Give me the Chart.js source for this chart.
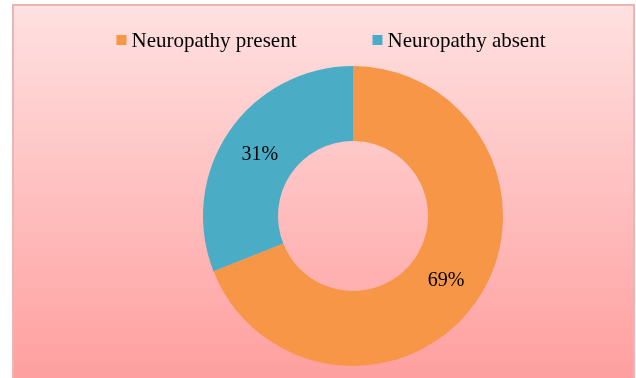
<!DOCTYPE html>
<html>
<head>
<meta charset="utf-8">
<title>Neuropathy</title>
<script src="https://cdn.jsdelivr.net/npm/chart.js@4.4.1/dist/chart.umd.min.js"></script>
<style>
    html, body { margin: 0; padding: 0; background: #ffffff; }
    #wrap { width: 636px; height: 378px; position: relative; }
</style>
</head>
<body>
<div id="wrap"><canvas id="neuroChart" width="636" height="378"></canvas></div>
<script>
// Share of patients with / without neuropathy
const categories = ['Neuropathy present', 'Neuropathy absent'];
const percentages = [69, 31];
const sliceColors = ['#F79646', '#4BACC6'];

const SERIF = '"Liberation Serif", "Times New Roman", serif';

// Pink gradient panel with a thin border behind everything
const panelBackground = {
    id: 'panelBackground',
    beforeDraw(chart) {
        const ctx = chart.ctx;
        const w = chart.width, h = chart.height;
        ctx.save();
        ctx.fillStyle = '#ffffff';
        ctx.fillRect(0, 0, w, h);
        const grad = ctx.createLinearGradient(0, 5, 0, h);
        grad.addColorStop(0, '#FFE1E1');
        grad.addColorStop(1, '#FF9F9F');
        ctx.fillStyle = grad;
        ctx.fillRect(13, 5, 621, h);
        ctx.strokeStyle = '#E9B6B6';
        ctx.lineWidth = 2;
        ctx.strokeRect(13, 5, 621, h + 10);
        ctx.restore();
    }
};

// Legend row drawn by hand so the box/text spacing stays tight
const legendRow = {
    id: 'legendRow',
    afterDraw(chart) {
        const ctx = chart.ctx;
        const colors = chart.data.datasets[0].backgroundColor;
        ctx.save();
        ctx.font = '21px ' + SERIF;
        ctx.textBaseline = 'alphabetic';
        const box = 10, textGap = 5, itemGap = 76;
        const widths = chart.data.labels.map(t => ctx.measureText(t).width);
        let total = widths.reduce((a, b) => a + b, 0) + widths.length * (box + textGap) + itemGap * (widths.length - 1);
        let x = 331 - total / 2;
        chart.data.labels.forEach((label, i) => {
            ctx.fillStyle = colors[i];
            ctx.fillRect(x, 35, box, box);
            ctx.fillStyle = '#000000';
            ctx.fillText(label, x + box + textGap, 47);
            x += box + textGap + widths[i] + itemGap;
        });
        ctx.restore();
    }
};

// Percentage text in the middle of each ring segment
const sliceLabels = {
    id: 'sliceLabels',
    afterDatasetsDraw(chart) {
        const ctx = chart.ctx;
        const meta = chart.getDatasetMeta(0);
        ctx.save();
        ctx.font = '20px ' + SERIF;
        ctx.fillStyle = '#000000';
        ctx.textAlign = 'center';
        ctx.textBaseline = 'middle';
        meta.data.forEach((arc, i) => {
            const pos = arc.tooltipPosition();
            ctx.fillText(percentages[i] + '%', pos.x, pos.y + 2);
        });
        ctx.restore();
    }
};

new Chart(document.getElementById('neuroChart'), {
    type: 'doughnut',
    data: {
        labels: categories,
        datasets: [{
            data: percentages,
            backgroundColor: sliceColors,
            borderWidth: 0,
            hoverOffset: 0
        }]
    },
    options: {
        responsive: false,
        animation: false,
        cutout: '50%',
        layout: {
            padding: { top: 66, bottom: 12, left: 203, right: 133 }
        },
        plugins: {
            legend: { display: false },
            tooltip: { enabled: false }
        }
    },
    plugins: [panelBackground, sliceLabels, legendRow]
});
</script>
</body>
</html>
